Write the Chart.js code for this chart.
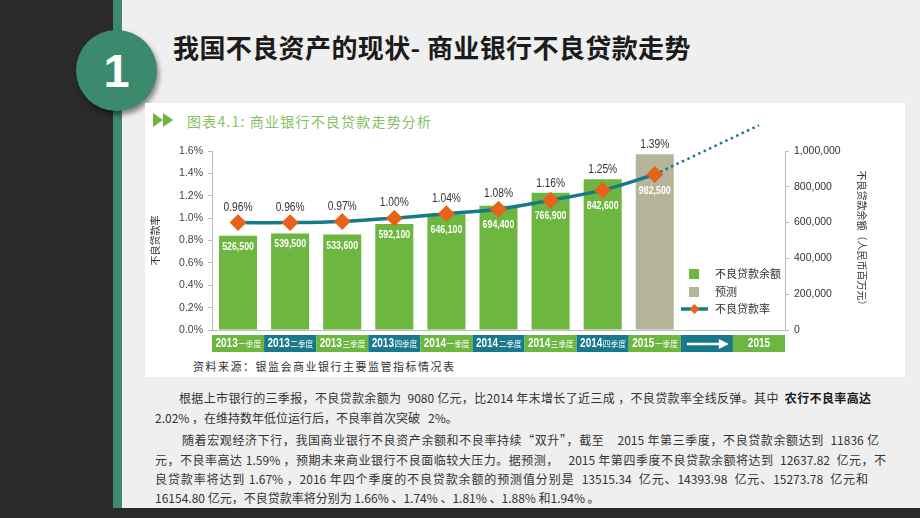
<!DOCTYPE html>
<html>
<head>
<meta charset="utf-8">
<script src="https://cdn.jsdelivr.net/npm/chart.js@4.4.1/dist/chart.umd.min.js"></script>
<style>
  html, body { margin: 0; padding: 0; }
  body {
    width: 920px; height: 518px; position: relative; overflow: hidden;
    background: #2a2a2a; font-family: "Noto Sans CJK SC", sans-serif;
  }
  .slide { position: absolute; left: 122px; top: 0; width: 798px; height: 508px; background: #efefef; }
  .strip { position: absolute; left: 113px; top: 0; width: 9px; height: 508px; background: #3b8a6e; }
  .badge {
    position: absolute; left: 76px; top: 30px; width: 81px; height: 81px; border-radius: 50%;
    background: #3b8a6e; box-shadow: 2px 4px 5px rgba(0,0,0,0.45);
    color: #fff; font: bold 47px "Liberation Sans", Arial, sans-serif; text-align: center; line-height: 81px;
  }
  .title {
    position: absolute; left: 173px; top: 29px; font-weight: bold; font-size: 26px;
    letter-spacing: 0.4px; color: #1b1b1b; line-height: 36px; white-space: pre;
  }
  .panel { position: absolute; left: 145px; top: 103px; width: 760px; height: 274px; background: #fff; }
  .tri { position: absolute; top: 113px; width: 0; height: 0; border-top: 7.5px solid transparent;
    border-bottom: 7.5px solid transparent; border-left: 10px solid #6cb33f; }
  .chart-head {
    position: absolute; left: 187px; top: 111px; font-size: 14px; line-height: 20px;
    letter-spacing: 1.2px; color: #86bf62; white-space: pre;
  }
  .source {
    position: absolute; left: 193px; top: 358px; font-size: 11px; line-height: 16px;
    letter-spacing: 1.5px; color: #333; white-space: pre;
  }
  .chart-wrap { position: absolute; left: 145px; top: 118px; width: 727px; height: 240px; }
  .body-line {
    position: absolute; font-size: 12px; line-height: 16px; color: #333; white-space: pre;
  }
  .just { text-align: justify; text-align-last: justify; }
  b { color: #1b1b1b; }
</style>
</head>
<body>
<div class="slide"></div>
<div class="strip"></div>
<div class="badge">1</div>
<div class="title">我国不良资产的现状- 商业银行不良贷款走势</div>

<div class="panel"></div>
<div class="tri" style="left:153px"></div>
<div class="tri" style="left:163px"></div>
<div class="chart-head">图表4.1: 商业银行不良贷款走势分析</div>
<div class="chart-wrap"><canvas id="chart"></canvas></div>
<div class="source">资料来源：银监会商业银行主要监管指标情况表</div>

<div class="body-line just" style="left:179px;top:390px;width:692px">根据上市银行的三季报，不良贷款余额为  9080 亿元，比2014 年末增长了近三成 ，不良贷款率全线反弹。其中  <b>农行不良率高达</b></div>
<div class="body-line" style="left:155px;top:410px">2.02% ，在维持数年低位运行后，不良率首次突破   2%。</div>
<div class="body-line just" style="left:182px;top:432px;width:697px">随着宏观经济下行，我国商业银行不良资产余额和不良率持续“双升”，截至    2015 年第三季度，不良贷款余额达到  11836 亿</div>
<div class="body-line just" style="left:155px;top:452px;width:731px">元，不良率高达 1.59% ，预期未来商业银行不良面临较大压力。据预测，   2015 年第四季度不良贷款余额将达到  12637.82  亿元，不</div>
<div class="body-line just" style="left:155px;top:471px;width:713px">良贷款率将达到 1.67% ，2016 年四个季度的不良贷款余额的预测值分别是  13515.34  亿元、14393.98  亿元、15273.78  亿元和</div>
<div class="body-line" style="left:155px;top:490px">16154.80 亿元，不良贷款率将分别为 1.66% 、1.74% 、1.81% 、1.88% 和1.94% 。</div>

<script>
// categories along the bottom band
const quarters = [
  "2013一季度", "2013二季度", "2013三季度", "2013四季度",
  "2014一季度", "2014二季度", "2014三季度", "2014四季度",
  "2015一季度", "→", "2015"
];
// NPL balance, RMB million (last value is the forecast bar)
const balance = [526500, 539500, 533600, 592100, 646100, 694400, 766900, 842600, 982500, null, null];
const forecastFrom = 8;
// NPL ratio, %
const rate = [0.96, 0.96, 0.97, 1.00, 1.04, 1.08, 1.16, 1.25, 1.39, null, null];
// dotted trend beyond the last quarter
const rateTrend = [null, null, null, null, null, null, null, null, 1.39, 1.61, 1.83];
// axis ticks
const rateTicks = [0, 0.2, 0.4, 0.6, 0.8, 1.0, 1.2, 1.4, 1.6];
const balanceTicks = [0, 200000, 400000, 600000, 800000, 1000000];

const GREEN = "#6db63f";
const TEAL = "#17798b";
const KHAKI = "#b6b59b";
const ORANGE = "#e8621c";
const SANS = '"Liberation Sans", Arial, sans-serif';
const CJK = '"Noto Sans CJK SC", sans-serif';

// text squeezed horizontally, to mimic a narrow face
function narrowText(ctx, text, x, y, sx, align) {
  ctx.save();
  ctx.translate(x, y);
  ctx.scale(sx, 1);
  ctx.textAlign = align || "center";
  ctx.fillText(text, 0, 0);
  ctx.restore();
}

const decor = {
  id: "decor",
  afterDraw(chart) {
    const ctx = chart.ctx;
    const area = chart.chartArea;
    const x = chart.scales.x;
    const half = (x.getPixelForValue(1) - x.getPixelForValue(0)) / 2;
    const barMeta = chart.getDatasetMeta(2);
    const lineMeta = chart.getDatasetMeta(0);
    ctx.save();

    // category band under the axis
    const bandTop = area.bottom + 5, bandH = 17;
    quarters.forEach((q, i) => {
      const cx = x.getPixelForValue(i);
      ctx.fillStyle = i % 2 === 0 ? GREEN : TEAL;
      ctx.fillRect(cx - half, bandTop, half * 2, bandH);
      const cy = bandTop + bandH / 2 + 0.5;
      ctx.fillStyle = "#fff";
      ctx.textBaseline = "middle";
      if (q === "→") {
        ctx.strokeStyle = "#fff";
        ctx.lineWidth = 2.5;
        ctx.beginPath();
        ctx.moveTo(cx - 20, cy);
        ctx.lineTo(cx + 14, cy);
        ctx.stroke();
        ctx.beginPath();
        ctx.moveTo(cx + 22, cy);
        ctx.lineTo(cx + 12, cy - 5);
        ctx.lineTo(cx + 12, cy + 5);
        ctx.closePath();
        ctx.fill();
        return;
      }
      const year = q.slice(0, 4), rest = q.slice(4);
      const sy = 0.8, sr = 0.9;
      ctx.font = "bold 12.5px " + SANS;
      const wy = ctx.measureText(year).width * sy;
      ctx.font = "8.5px " + CJK;
      const wr = ctx.measureText(rest).width * sr;
      const sx0 = cx - (wy + wr) / 2;
      ctx.font = "bold 12.5px " + SANS;
      narrowText(ctx, year, sx0, cy, sy, "left");
      ctx.font = "8.5px " + CJK;
      narrowText(ctx, rest, sx0 + wy + 0.5, cy, sr, "left");
    });

    // values inside the bars
    ctx.textBaseline = "middle";
    ctx.font = "bold 11px " + SANS;
    ctx.fillStyle = "#fff";
    balance.forEach((v, i) => {
      if (v == null) return;
      const bar = barMeta.data[i];
      const pt = lineMeta.data[i];
      const y = Math.max(bar.y + 11, pt.y + 16);
      narrowText(ctx, v.toLocaleString("en-US"), bar.x, y, 0.8);
    });

    // ratio labels above the points
    ctx.font = "12px " + SANS;
    ctx.fillStyle = "#333";
    rate.forEach((v, i) => {
      if (v == null) return;
      const bar = barMeta.data[i];
      const pt = lineMeta.data[i];
      const y = Math.min(pt.y - 15, bar.y - 9);
      narrowText(ctx, v.toFixed(2) + "%", pt.x, y, 0.85);
    });

    // legend inside the plot
    const lx = area.right - 96;
    ctx.fillStyle = GREEN;
    ctx.fillRect(lx, area.bottom - 61, 10, 10);
    ctx.fillStyle = KHAKI;
    ctx.fillRect(lx, area.bottom - 43, 10, 10);
    ctx.strokeStyle = TEAL;
    ctx.lineWidth = 3.5;
    ctx.beginPath();
    ctx.moveTo(lx - 8, area.bottom - 21);
    ctx.lineTo(lx + 19, area.bottom - 21);
    ctx.stroke();
    ctx.fillStyle = ORANGE;
    ctx.beginPath();
    ctx.moveTo(lx + 5.5, area.bottom - 26);
    ctx.lineTo(lx + 10.5, area.bottom - 21);
    ctx.lineTo(lx + 5.5, area.bottom - 16);
    ctx.lineTo(lx + 0.5, area.bottom - 21);
    ctx.closePath();
    ctx.fill();
    ctx.fillStyle = "#333";
    ctx.textAlign = "left";
    ctx.font = "11px " + CJK;
    ctx.fillText("不良贷款余额", lx + 26, area.bottom - 56);
    ctx.fillText("预测", lx + 26, area.bottom - 38);
    ctx.fillText("不良贷款率", lx + 26, area.bottom - 21);
    ctx.restore();
  }
};

new Chart(document.getElementById("chart"), {
  type: "bar",
  data: {
    labels: quarters,
    datasets: [
      {
        type: "line",
        label: "不良贷款率",
        data: rate,
        yAxisID: "yRate",
        borderColor: TEAL,
        borderWidth: 3.5,
        tension: 0.35,
        pointStyle: "rectRot",
        pointRadius: 6,
        pointBackgroundColor: ORANGE,
        pointBorderColor: ORANGE,
        order: 0,
      },
      {
        type: "line",
        label: "趋势",
        data: rateTrend,
        yAxisID: "yRate",
        borderColor: TEAL,
        borderWidth: 2.5,
        borderDash: [2.5, 3.5],
        pointRadius: 0,
        tension: 0,
        clip: false,
        order: 1,
      },
      {
        label: "不良贷款余额",
        data: balance,
        yAxisID: "yBal",
        backgroundColor: (c) => (c.dataIndex >= forecastFrom ? KHAKI : GREEN),
        categoryPercentage: 1,
        barPercentage: 0.73,
        order: 2,
      },
    ],
  },
  options: {
    responsive: true,
    maintainAspectRatio: false,
    animation: false,
    layout: { padding: { top: 33, left: 0, right: 0, bottom: 0 } },
    plugins: {
      legend: { display: false },
      tooltip: { enabled: false },
    },
    scales: {
      x: {
        ticks: { display: false },
        grid: { display: false, drawTicks: false },
        border: { display: true, color: "#bbb" },
        afterFit: (s) => { s.height = 28; },
      },
      yRate: {
        position: "left",
        min: 0,
        max: 1.6,
        afterBuildTicks: (s) => { s.ticks = rateTicks.map((v) => ({ value: v })); },
        ticks: {
          color: "#444",
          font: { family: SANS, size: 10.5 },
          padding: 5,
          callback: (v) => v.toFixed(1) + "%",
        },
        grid: { drawOnChartArea: false, tickLength: 4, color: "#bbb" },
        border: { color: "#bbb" },
        title: { display: true, text: "不良贷款率", color: "#333", font: { family: CJK, size: 10 } },
        afterFit: (s) => { s.width = 67; },
      },
      yBal: {
        position: "right",
        min: 0,
        max: 1000000,
        afterBuildTicks: (s) => { s.ticks = balanceTicks.map((v) => ({ value: v })); },
        ticks: {
          color: "#333",
          font: { family: SANS, size: 10.5 },
          padding: 5,
          callback: (v) => v.toLocaleString("en-US"),
        },
        grid: { drawOnChartArea: false, tickLength: 4, color: "#bbb" },
        border: { color: "#bbb" },
        title: { display: true, text: "不良贷款余额（人民币百万元）", color: "#333", font: { family: CJK, size: 10 } },
        afterFit: (s) => { s.width = 87; },
      },
    },
  },
  plugins: [decor],
});
</script>
</body>
</html>
